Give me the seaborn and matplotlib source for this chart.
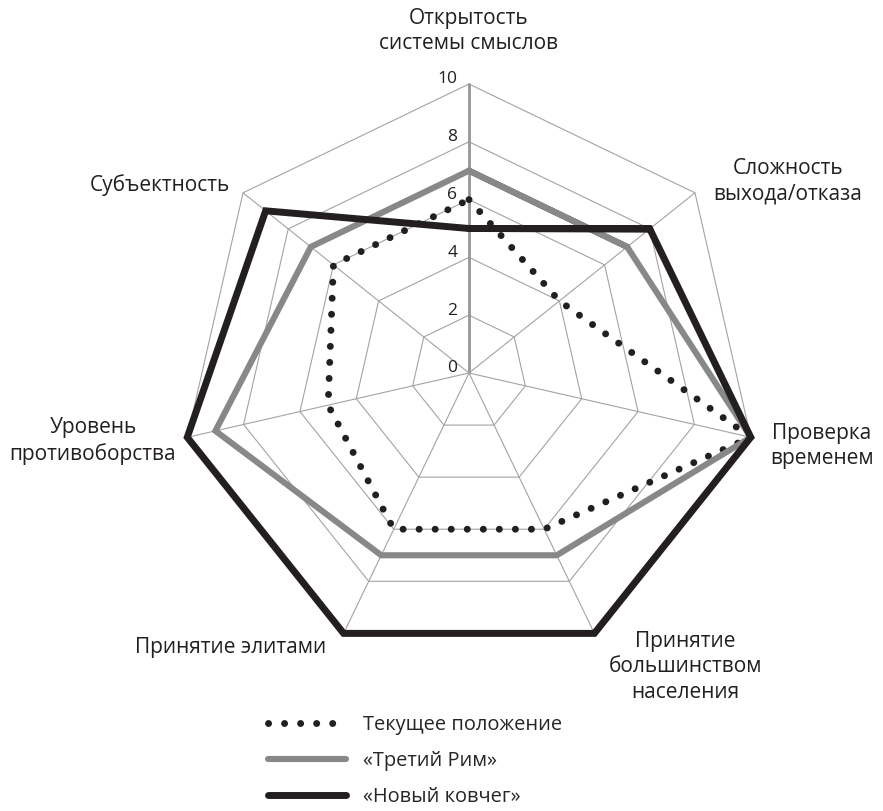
import numpy as np
import matplotlib.pyplot as plt
import seaborn as sns
from matplotlib.lines import Line2D

# data
categories = ["Открытость\nсистемы смыслов", "Сложность\nвыхода/отказа",
              "Проверка\nвременем", "Принятие\nбольшинством\nнаселения",
              "Принятие элитами", "Уровень\nпротивоборства", "Субъектность"]
current = [6, 4, 10, 6, 6, 5, 6]
third_rome = [7, 7, 10, 7, 7, 9, 7]
new_ark = [5, 8, 10, 10, 10, 10, 9]
series_names = ["Текущее положение", "«Третий Рим»", "«Новый ковчег»"]
levels = [0, 2, 4, 6, 8, 10]

sns.set_style("white")
plt.rcParams["font.family"] = ["Open Sans", "DejaVu Sans"]

BLACK = "#231f20"
GRAY = "#87888a"
GRID = "#a3a3a3"

W, H = 883, 811
fig = plt.figure(figsize=(W / 100, H / 100), dpi=100)
cx, cy, R = 469, 373, 289
ax = fig.add_axes([(cx - R) / W, 1 - (cy + R) / H, 2 * R / W, 2 * R / H],
                  projection="polar")
ax.set_theta_offset(np.pi / 2)
ax.set_theta_direction(-1)
ax.axis("off")

n = len(categories)
theta = np.linspace(0, 2 * np.pi, n, endpoint=False)
ring = list(range(n)) + [0]

# polygon grid
for lvl in levels[1:]:
    ax.plot(theta[ring], [lvl] * len(ring), color=GRID, lw=0.8, zorder=1,
            clip_on=False)
for i, t in enumerate(theta):
    ax.plot([t, t], [0, levels[-1]], color="#969696" if i == 0 else GRID,
            lw=2.0 if i == 0 else 0.8, zorder=1, clip_on=False)

# scale labels on the top axis
for lvl in levels:
    ax.annotate(str(lvl), xy=(0, lvl), xytext=(-8.5, 0.5),
                textcoords="offset points", ha="right", va="baseline",
                fontsize=12.5, color=BLACK)

# series
styles = [
    dict(values=current, color=BLACK, lw=5.0, ls=(0, (0.01, 2.3)), wrap=1),
    dict(values=third_rome, color=GRAY, lw=4.4, ls="-", wrap=2),
    dict(values=new_ark, color=BLACK, lw=5.0, ls="-", wrap=2),
]
handles = []
for name, st in zip(series_names, styles):
    idx = list(range(n)) + list(range(st["wrap"]))
    vals = np.asarray(st["values"], dtype=float)
    sns.lineplot(x=theta[idx], y=vals[idx], sort=False, estimator=None, ax=ax,
                 color=st["color"], lw=st["lw"], linestyle=st["ls"],
                 dash_capstyle="round", solid_joinstyle="miter",
                 clip_on=False, zorder=3)
    handles.append(Line2D([], [], color=st["color"], lw=st["lw"],
                          linestyle=st["ls"], dash_capstyle="round",
                          solid_capstyle="round", label=name))

ax.set_ylim(0, levels[-1])
ax.set_xlabel("")
ax.set_ylabel("")

# axis labels
label_pos = [(469, 31), (788, 181), (822, 446), (685, 667),
             (231, 648), (93, 441), (160, 185)]
for text, (px, py) in zip(categories, label_pos):
    fig.text(px / W, 1 - py / H, text, ha="center", va="center",
             fontsize=15, linespacing=1.3, color=BLACK)

fig.legend(handles=handles, loc="upper left",
           bbox_to_anchor=(268 / W, 1 - 715 / H), frameon=False,
           fontsize=14.4, handlelength=3.9, handletextpad=0.85,
           labelspacing=0.8, borderpad=0, borderaxespad=0)

fig.savefig("out.png", dpi=100)
